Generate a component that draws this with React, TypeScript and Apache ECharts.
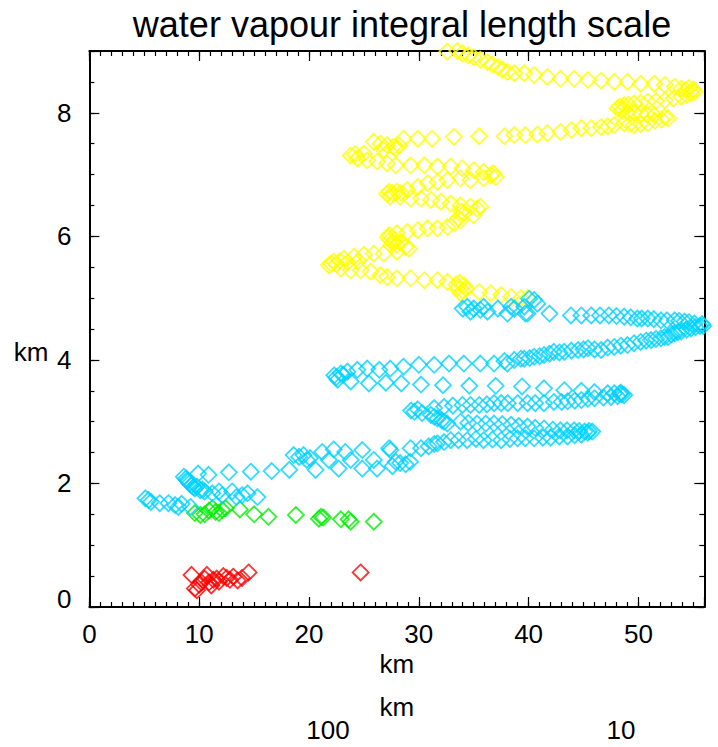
import React, { useEffect, useRef } from 'react';
import * as echarts from 'echarts';

// ---------- data (x: length scale in km, y: height in km) ----------
const titleText = 'water vapour integral length scale';
const xMin = 0;
const xMax = 56;
const yMin = 0;
const yMax = 9;
const xMajorStep = 10;
const xMinorStep = 1;
const yMajorStep = 2;
const yMinorStep = 0.5;
const wavelengthMin = 5.2;
const wavelengthMax = 652;
const wavelengthLabels = [10, 100];

const redPoints = [
  [9.3, 0.52], [9.6, 0.3], [9.8, 0.27], [10.0, 0.36], [10.2, 0.4], [10.5, 0.46], [10.7, 0.52],
  [10.9, 0.4], [11.1, 0.35], [11.3, 0.44], [11.6, 0.46], [11.8, 0.41], [12.2, 0.5], [12.5, 0.47],
  [12.8, 0.44], [13.1, 0.49], [13.5, 0.43], [13.9, 0.47], [14.5, 0.56], [24.7, 0.56],
];

const greenPoints = [
  [9.6, 1.52], [10.1, 1.49], [10.5, 1.5], [10.9, 1.56], [11.2, 1.6], [11.5, 1.54], [11.8, 1.52],
  [12.1, 1.57], [12.4, 1.6], [13.7, 1.58], [15.0, 1.5], [16.3, 1.46], [18.8, 1.49], [20.9, 1.43],
  [21.1, 1.46], [21.3, 1.45], [22.9, 1.42], [23.6, 1.42], [23.8, 1.38], [25.9, 1.38],
];

const cyanLow = [
  [5.1, 1.76], [5.4, 1.73], [5.6, 1.7], [6.4, 1.68], [7.2, 1.68], [7.8, 1.65], [8.1, 1.62], [8.4, 1.67],
  [9.2, 1.62], [10.1, 1.89], [10.5, 1.87], [11.2, 1.84], [11.8, 1.87], [12.1, 1.81], [13.0, 1.87],
  [13.4, 1.78], [13.9, 1.81], [14.4, 1.84], [15.3, 1.78],
  [8.6, 2.11], [8.8, 2.08], [8.9, 2.05], [9.0, 2.03], [9.1, 2.0], [9.3, 1.97], [9.5, 1.94], [9.6, 1.92],
  [9.8, 1.95], [9.9, 2.16], [10.3, 1.9], [10.85, 2.14],
  [12.7, 2.18], [14.7, 2.19], [16.6, 2.2], [18.2, 2.22],
  [18.6, 2.46], [19.1, 2.43], [19.5, 2.46], [19.8, 2.38], [20.1, 2.41], [20.6, 2.22], [21.2, 2.51],
  [21.8, 2.38], [22.25, 2.55], [22.7, 2.24], [23.3, 2.51], [23.8, 2.38], [24.85, 2.54], [24.85, 2.24],
  [25.9, 2.38], [26.2, 2.24], [27.3, 2.57], [27.6, 2.28], [27.9, 2.35], [28.3, 2.33], [28.8, 2.31],
  [29.2, 2.35],
];

const cyanMid = [
  [27.4, 2.54], [29.25, 2.57], [30.2, 2.57], [30.9, 2.6], [31.4, 2.64], [31.7, 2.65], [32.3, 2.67],
  [32.9, 2.7], [33.6, 2.7], [34.4, 2.7], [35.2, 2.72], [35.9, 2.7], [36.7, 2.71], [37.5, 2.7],
  [38.3, 2.72], [39.0, 2.73], [39.7, 2.73], [40.5, 2.73], [41.3, 2.74], [42.0, 2.74], [42.8, 2.76],
  [43.55, 2.76], [44.2, 2.78], [44.8, 2.79], [45.4, 2.82], [45.8, 2.84],
  [33.8, 3.0], [34.5, 2.98], [35.3, 2.97], [36.1, 2.97], [36.85, 2.97], [37.6, 2.96], [38.4, 2.95],
  [39.1, 2.93], [39.9, 2.92], [40.6, 2.9], [41.4, 2.89], [42.2, 2.87], [42.9, 2.86], [43.5, 2.86],
  [44.15, 2.86], [44.6, 2.85], [45.1, 2.84], [45.5, 2.85],
  [29.3, 3.18], [29.6, 3.16], [29.9, 3.2], [30.3, 3.14], [31.1, 3.11], [31.4, 3.08], [31.7, 3.05],
  [32.1, 3.02], [32.3, 3.0], [32.6, 2.97], [31.4, 3.22], [32.3, 3.24],
  [33.1, 3.26], [33.97, 3.27], [34.7, 3.27], [35.5, 3.27], [36.2, 3.28], [36.85, 3.3], [37.5, 3.3],
  [38.1, 3.3], [39.0, 3.3], [39.9, 3.3], [40.6, 3.3], [41.4, 3.3], [42.3, 3.32], [43.0, 3.32],
  [43.55, 3.33], [44.2, 3.34], [44.8, 3.35], [45.4, 3.37], [46.0, 3.38], [46.8, 3.39], [47.5, 3.4],
  [48.1, 3.41], [48.3, 3.45], [48.5, 3.44], [48.7, 3.43], [48.4, 3.47],
  [23.8, 3.65], [25.45, 3.62], [27.0, 3.63], [28.4, 3.62], [30.2, 3.6], [32.2, 3.59], [34.6, 3.58],
  [37.0, 3.58], [39.4, 3.57], [41.4, 3.54], [43.25, 3.51], [44.8, 3.5], [46.0, 3.48], [47.2, 3.46],
  [47.8, 3.46],
];

const cyanHigh = [
  [22.3, 3.75], [22.5, 3.72], [22.6, 3.68], [22.9, 3.78], [23.1, 3.76],
  [23.5, 3.81], [24.4, 3.84], [25.3, 3.86], [26.4, 3.84], [27.4, 3.86], [28.6, 3.89], [30.0, 3.92],
  [31.4, 3.92], [32.75, 3.94], [34.1, 3.94], [35.6, 3.94], [36.85, 3.94], [37.8, 3.98], [38.07, 3.94],
  [38.7, 4.0], [39.3, 4.02], [39.6, 4.02], [40.1, 4.03], [40.5, 4.05], [41.0, 4.06], [41.4, 4.08],
  [41.9, 4.1], [42.3, 4.13], [42.8, 4.12], [43.25, 4.13], [43.9, 4.15], [44.5, 4.16], [45.0, 4.17],
  [45.4, 4.19], [46.0, 4.17], [46.6, 4.16], [47.2, 4.2], [47.8, 4.21], [48.4, 4.23], [49.0, 4.24],
  [49.6, 4.27], [50.2, 4.29], [50.7, 4.31], [51.15, 4.32], [51.6, 4.34], [52.05, 4.35], [52.4, 4.37],
  [52.7, 4.37], [53.0, 4.41], [53.3, 4.43], [53.6, 4.45], [53.9, 4.46], [54.4, 4.49], [54.8, 4.51],
  [55.2, 4.53], [55.6, 4.55], [55.9, 4.55], [55.8, 4.58],
  [55.1, 4.59], [54.6, 4.61], [54.2, 4.62], [53.7, 4.63], [53.3, 4.64], [52.6, 4.64], [52.05, 4.64],
  [51.4, 4.66], [50.85, 4.67], [50.3, 4.67], [49.9, 4.67], [49.3, 4.69], [48.7, 4.7], [48.0, 4.71],
  [47.3, 4.72], [46.5, 4.72], [45.7, 4.72], [44.8, 4.72], [43.85, 4.72], [41.9, 4.75], [39.9, 4.75],
  [38.07, 4.75], [36.25, 4.78], [34.7, 4.78],
  [34.0, 4.83], [34.4, 4.86], [35.0, 4.83], [35.6, 4.81], [35.9, 4.86], [37.2, 4.83], [38.4, 4.86],
  [38.7, 4.83], [39.6, 4.86], [39.7, 4.75], [40.05, 4.99], [40.5, 4.97], [40.8, 4.91],
];

const yellowLow = [
  [39.9, 5.0], [39.3, 5.0], [38.4, 5.02], [37.5, 5.05], [36.55, 5.08], [35.5, 5.1],
  [33.5, 5.16], [33.8, 5.08], [34.1, 5.21], [33.7, 5.25], [34.3, 5.15], [34.0, 5.12], [33.4, 5.22],
  [32.6, 5.26], [31.7, 5.29], [30.5, 5.29], [29.25, 5.32], [28.0, 5.32], [27.1, 5.34], [26.5, 5.37],
  [25.6, 5.43], [24.7, 5.45], [23.8, 5.45], [22.9, 5.48],
  [21.8, 5.53], [22.0, 5.56], [22.25, 5.59], [22.5, 5.55], [22.8, 5.6], [23.2, 5.64], [23.5, 5.58],
  [24.1, 5.67], [24.5, 5.6], [25.0, 5.7], [25.9, 5.72], [26.8, 5.72], [28.0, 5.75],
  [29.1, 5.8], [28.8, 5.83], [28.0, 5.86], [27.6, 5.9], [27.4, 5.94], [27.2, 5.98], [27.3, 6.02],
  [27.8, 5.95], [28.3, 5.9], [27.5, 5.85],
  [28.0, 6.05], [28.95, 6.07], [29.9, 6.1], [30.8, 6.13], [31.7, 6.13], [32.6, 6.15], [33.2, 6.21],
  [33.8, 6.26], [34.1, 6.37], [35.0, 6.34], [33.6, 6.3], [33.9, 6.4], [35.6, 6.48], [35.3, 6.45],
  [34.7, 6.48], [33.8, 6.5], [32.9, 6.53], [32.0, 6.56], [31.1, 6.59], [30.2, 6.61], [29.25, 6.61],
  [28.3, 6.64], [27.4, 6.64],
  [27.1, 6.69], [27.3, 6.72], [27.6, 6.7], [28.0, 6.72], [28.4, 6.7], [28.95, 6.75],
  [29.9, 6.8], [30.8, 6.86], [31.7, 6.88], [32.6, 6.91], [33.8, 6.94], [34.7, 6.91], [35.9, 6.94],
  [36.55, 6.99], [37.0, 6.96], [36.8, 7.02], [35.9, 7.04], [35.0, 7.07], [33.97, 7.1], [32.9, 7.13],
  [31.7, 7.13], [30.5, 7.15], [29.25, 7.15], [27.9, 7.15], [27.1, 7.18], [26.2, 7.21], [25.3, 7.23],
  [24.4, 7.26], [23.8, 7.31], [24.2, 7.33], [25.0, 7.34], [26.8, 7.4], [25.9, 7.53], [26.5, 7.5],
  [27.1, 7.48], [27.7, 7.45], [27.9, 7.42], [28.2, 7.47],
];

const yellowHigh = [
  [28.6, 7.58], [29.9, 7.58], [31.2, 7.58], [33.2, 7.61], [35.5, 7.62], [37.8, 7.62], [38.7, 7.64],
  [39.7, 7.64], [40.8, 7.65], [41.7, 7.67], [42.9, 7.69], [43.9, 7.72], [44.8, 7.75], [45.7, 7.75],
  [46.6, 7.77], [47.2, 7.78], [47.8, 7.8], [48.7, 7.83], [49.2, 7.82], [49.6, 7.8], [50.2, 7.82],
  [50.85, 7.83], [51.5, 7.87], [52.1, 7.89], [52.7, 7.91], [52.4, 7.93], [51.45, 7.96], [50.8, 7.97],
  [50.2, 7.99], [49.6, 8.0], [49.0, 8.01], [48.5, 8.04], [48.1, 8.07], [48.3, 8.1], [48.7, 8.12],
  [49.1, 8.13], [49.6, 8.15], [50.2, 8.16], [50.85, 8.18], [51.6, 8.19], [52.4, 8.2], [53.2, 8.23],
  [53.9, 8.26], [54.4, 8.29], [54.8, 8.32], [55.1, 8.34], [55.0, 8.38], [54.6, 8.4], [54.3, 8.37],
  [53.9, 8.39], [53.3, 8.42], [52.4, 8.45], [51.45, 8.47], [50.2, 8.47], [49.0, 8.5], [47.8, 8.5],
  [46.6, 8.52], [45.4, 8.53], [44.15, 8.55], [42.9, 8.55], [41.7, 8.58], [40.5, 8.61], [39.6, 8.64],
  [38.7, 8.64], [38.07, 8.66], [37.6, 8.7], [37.2, 8.74], [36.7, 8.78], [36.25, 8.82], [35.6, 8.86],
  [35.0, 8.9], [34.5, 8.93], [33.97, 8.96], [33.5, 9.0], [32.6, 8.99],
];

const FONT = '"Liberation Sans", Arial, Helvetica, sans-serif';
const BLACK = '#000000';

function isMultiple(v: number, step: number) {
  const r = v / step;
  return Math.abs(r - Math.round(r)) < 1e-6;
}

function diamondSeries(name: string, data: number[][], color: string) {
  return {
    name,
    type: 'scatter',
    xAxisIndex: 0,
    yAxisIndex: 0,
    data,
    symbol: 'diamond',
    symbolSize: 16,
    clip: false,
    silent: true,
    itemStyle: { color: 'rgba(0,0,0,0)', borderColor: color, borderWidth: 1.8 },
  };
}

export default function App() {
  const ref = useRef<HTMLDivElement>(null);

  useEffect(() => {
    if (!ref.current) return;
    const chart = echarts.init(ref.current, null, { renderer: 'svg' });

    const lineStyle = { color: BLACK, width: 2 };
    const labelStyle = { fontSize: 26, color: BLACK, fontFamily: FONT };

    const linearX = (position: string, step: number, len: number, extra: any) => ({
      type: 'value',
      position,
      min: xMin,
      max: xMax,
      interval: step,
      splitLine: { show: false },
      axisLine: { show: false, onZero: false, lineStyle },
      axisTick: { show: true, inside: true, length: len, lineStyle: { color: BLACK, width: 1.2 } },
      axisLabel: { show: false },
      ...extra,
    });
    const linearY = (position: string, step: number, len: number, extra: any) => ({
      type: 'value',
      position,
      min: yMin,
      max: yMax,
      interval: step,
      splitLine: { show: false },
      axisLine: { show: false, onZero: false, lineStyle },
      axisTick: { show: true, inside: true, length: len, lineStyle: { color: BLACK, width: 1.2 } },
      axisLabel: { show: false },
      ...extra,
    });

    chart.setOption({
      animation: false,
      backgroundColor: '#ffffff',
      textStyle: { fontFamily: FONT },
      title: {
        text: titleText,
        left: 397,
        top: 1,
        textAlign: 'center',
        textStyle: { fontSize: 36, fontWeight: 'normal', color: BLACK, fontFamily: FONT },
      },
      grid: {
        left: 89.4,
        right: 13.7,
        top: 51,
        bottom: 140,
        containLabel: false,
        outerBoundsMode: 'none',
      },
      xAxis: [
        linearX('bottom', xMinorStep, 5, {
          axisLine: { show: true, onZero: false, lineStyle },
          axisLabel: {
            show: true,
            margin: 14,
            ...labelStyle,
            formatter: (v: number) => (isMultiple(v, xMajorStep) ? String(v) : ''),
          },
          name: 'km',
          nameLocation: 'middle',
          nameGap: 44,
          nameMoveOverlap: false,
          nameTextStyle: labelStyle,
        }),
        linearX('bottom', xMajorStep, 10, {}),
        linearX('top', xMinorStep, 5, { axisLine: { show: true, onZero: false, lineStyle } }),
        linearX('top', xMajorStep, 10, {}),
        {
          type: 'log',
          logBase: 10,
          position: 'bottom',
          offset: 84,
          min: wavelengthMin,
          max: wavelengthMax,
          inverse: true,
          splitLine: { show: false },
          axisLine: { show: false },
          axisTick: { show: false },
          minorTick: { show: false },
          axisLabel: {
            show: true,
            margin: 26,
            ...labelStyle,
            showMinLabel: false,
            showMaxLabel: false,
            formatter: (v: number) => {
              const hit = wavelengthLabels.find((w) => Math.abs(v - w) < 1e-6 * w);
              return hit !== undefined ? String(hit) : '';
            },
          },
          name: 'km',
          nameLocation: 'middle',
          nameGap: 3,
          nameMoveOverlap: false,
          nameTextStyle: labelStyle,
        },
      ],
      yAxis: [
        linearY('left', yMinorStep, 5, {
          axisLine: { show: true, onZero: false, lineStyle },
          axisLabel: {
            show: true,
            margin: 18,
            ...labelStyle,
            formatter: (v: number) => {
              if (!isMultiple(v, yMajorStep)) return '';
              return v === yMin ? '{low|' + v + '}' : String(v);
            },
            rich: {
              low: { ...labelStyle, padding: [0, 0, 16, 0] },
            },
          },
          name: 'km',
          nameLocation: 'middle',
          nameRotate: 0,
          nameGap: 41,
          nameMoveOverlap: false,
          nameTextStyle: { ...labelStyle, verticalAlign: 'top', padding: [10, 0, 0, 0] },
        }),
        linearY('left', yMajorStep, 10, {}),
        linearY('right', yMinorStep, 5, { axisLine: { show: true, onZero: false, lineStyle } }),
        linearY('right', yMajorStep, 10, {}),
      ],
      series: [
        diamondSeries('red', redPoints, '#ff0000'),
        diamondSeries('green', greenPoints, '#00ee00'),
        diamondSeries('yellow-low', yellowLow, '#ffff00'),
        diamondSeries('yellow-high', yellowHigh, '#ffff00'),
        diamondSeries('cyan-low', cyanLow, '#00d2ff'),
        diamondSeries('cyan-mid', cyanMid, '#00d2ff'),
        diamondSeries('cyan-high', cyanHigh, '#00d2ff'),
      ],
    });

    return () => chart.dispose();
  }, []);

  return (
    <div
      ref={ref}
      style={{ position: 'fixed', left: 0, top: 0, width: 718, height: 747, background: '#fff' }}
    />
  );
}
